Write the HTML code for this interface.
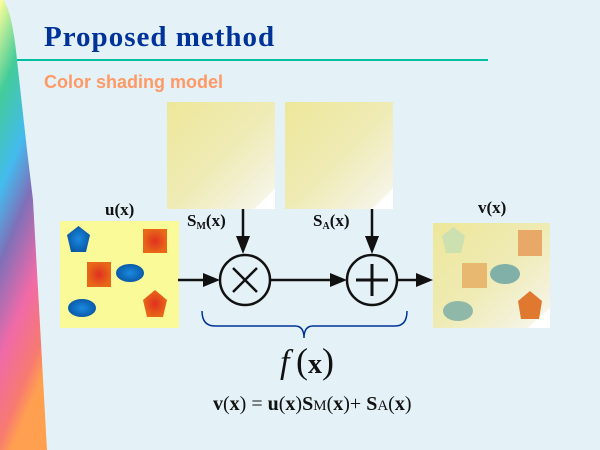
<!DOCTYPE html>
<html><head><meta charset="utf-8"><style>
html,body{margin:0;padding:0;background:#e4f2f8;}
svg{display:block}
</style></head><body>
<svg width="600" height="450" viewBox="0 0 600 450" xmlns="http://www.w3.org/2000/svg">
<defs>
<linearGradient id="rb" x1="0" y1="0" x2="0.25" y2="1">
<stop offset="0" stop-color="#ffff99"/>
<stop offset="0.2" stop-color="#44cc99"/>
<stop offset="0.4" stop-color="#44bbee"/>
<stop offset="0.55" stop-color="#7f70b8"/>
<stop offset="0.75" stop-color="#f06aa8"/>
<stop offset="0.92" stop-color="#f77a70"/>
<stop offset="1" stop-color="#ffa050"/>
</linearGradient>
<linearGradient id="sh" x1="0" y1="0" x2="1" y2="1">
<stop offset="0" stop-color="#ede79a"/>
<stop offset="0.5" stop-color="#efebb4"/>
<stop offset="0.8" stop-color="#f3f1d8"/>
<stop offset="0.9" stop-color="#f6f5e6"/>
<stop offset="0.91" stop-color="#ffffff"/>
</linearGradient>
<radialGradient id="or"><stop offset="0" stop-color="#e03020"/><stop offset="1" stop-color="#e86818"/></radialGradient>
<radialGradient id="bl"><stop offset="0" stop-color="#1a8ae0"/><stop offset="1" stop-color="#0a5aa8"/></radialGradient>
</defs>
<path d="M0,0 L3,0 Q12,10 17,60 L27,150 L33,200 L47,450 L0,450 Z" fill="url(#rb)"/>
<text x="44" y="46" font-family="Liberation Serif, serif" font-weight="bold" font-size="29" fill="#003399" letter-spacing="1">Proposed method</text>
<rect x="17" y="59" width="471" height="2" fill="#00c0a0"/>
<text x="44" y="88" font-family="Liberation Sans, sans-serif" font-weight="bold" font-size="18" fill="#ff9966">Color shading model</text>
<rect x="167" y="102" width="108" height="107" fill="url(#sh)"/>
<rect x="285" y="102" width="108" height="107" fill="url(#sh)"/>
<rect x="60" y="221" width="119" height="107" fill="#fafa99"/>
<polygon points="78.5,226 90,235 86,252 71,252 67,235" fill="url(#bl)"/>
<rect x="143" y="229" width="24" height="24" fill="url(#or)"/>
<rect x="87" y="262" width="24" height="25" fill="url(#or)"/>
<ellipse cx="130" cy="273" rx="14" ry="9" fill="url(#bl)"/>
<ellipse cx="82" cy="308" rx="14" ry="9" fill="url(#bl)"/>
<polygon points="155,290 167,300 163,317 147,317 143,300" fill="url(#or)"/>
<rect x="433" y="223" width="117" height="105" fill="url(#sh)"/>
<polygon points="453.5,227 465,236 461,253 446,253 442,236" fill="#cde0b0"/>
<rect x="518" y="230" width="24" height="26" fill="#e8a868"/>
<rect x="462" y="263" width="25" height="25" fill="#e8b870"/>
<ellipse cx="505" cy="274" rx="15" ry="10" fill="#80b0a8"/>
<ellipse cx="458" cy="311" rx="15" ry="10" fill="#90b8a8"/>
<polygon points="530,291 542,301 539,319 521,319 518,301" fill="#e07830"/>
<g font-family="Liberation Serif, serif" font-weight="bold" font-size="17" fill="#111">
<text x="105" y="215">u(x)</text>
<text x="478" y="213">v(x)</text>
<text x="187" y="226">S<tspan font-size="10" dy="3">M</tspan><tspan dy="-3">(x)</tspan></text>
<text x="313" y="226">S<tspan font-size="10" dy="3">A</tspan><tspan dy="-3">(x)</tspan></text>
</g>
<g stroke="#111" stroke-width="2.5" fill="none">
<circle cx="245" cy="280" r="25"/>
<circle cx="372" cy="280" r="25"/>
<line x1="233" y1="268" x2="257" y2="292"/>
<line x1="257" y1="268" x2="233" y2="292"/>
<line x1="372" y1="264" x2="372" y2="296" stroke-width="3"/>
<line x1="356" y1="280" x2="388" y2="280" stroke-width="3"/>
<line x1="178" y1="280" x2="207" y2="280"/>
<line x1="271" y1="280" x2="335" y2="280"/>
<line x1="397" y1="280" x2="420" y2="280"/>
<line x1="243" y1="209" x2="243" y2="240"/>
<line x1="372" y1="209" x2="372" y2="240"/>
</g>
<g fill="#111">
<polygon points="220,280 203,273 203,287"/>
<polygon points="347,280 330,273 330,287"/>
<polygon points="433,280 416,273 416,287"/>
<polygon points="243,254 236,236 250,236"/>
<polygon points="372,254 365,236 379,236"/>
</g>
<path d="M202,311 Q202,326 215,326 L295,326 Q304,326 304,338 Q304,326 313,326 L395,326 Q407,326 407,311" fill="none" stroke="#003399" stroke-width="1.5"/>
<text x="280" y="373" font-family="Liberation Serif, serif" font-style="italic" font-size="34" fill="#111">f</text>
<text x="296" y="373" font-family="Liberation Serif, serif" font-size="36" fill="#111">(<tspan font-weight="bold" font-size="28">x</tspan>)</text>
<text x="213" y="410" font-family="Liberation Serif, serif" font-size="20" fill="#111"><tspan font-weight="bold">v</tspan>(<tspan font-weight="bold">x</tspan>) = <tspan font-weight="bold">u</tspan>(<tspan font-weight="bold">x</tspan>)<tspan font-weight="bold">S</tspan><tspan font-size="15">M</tspan>(<tspan font-weight="bold">x</tspan>)+ <tspan font-weight="bold">S</tspan><tspan font-size="15">A</tspan>(<tspan font-weight="bold">x</tspan>)</text>
</svg>
</body></html>
